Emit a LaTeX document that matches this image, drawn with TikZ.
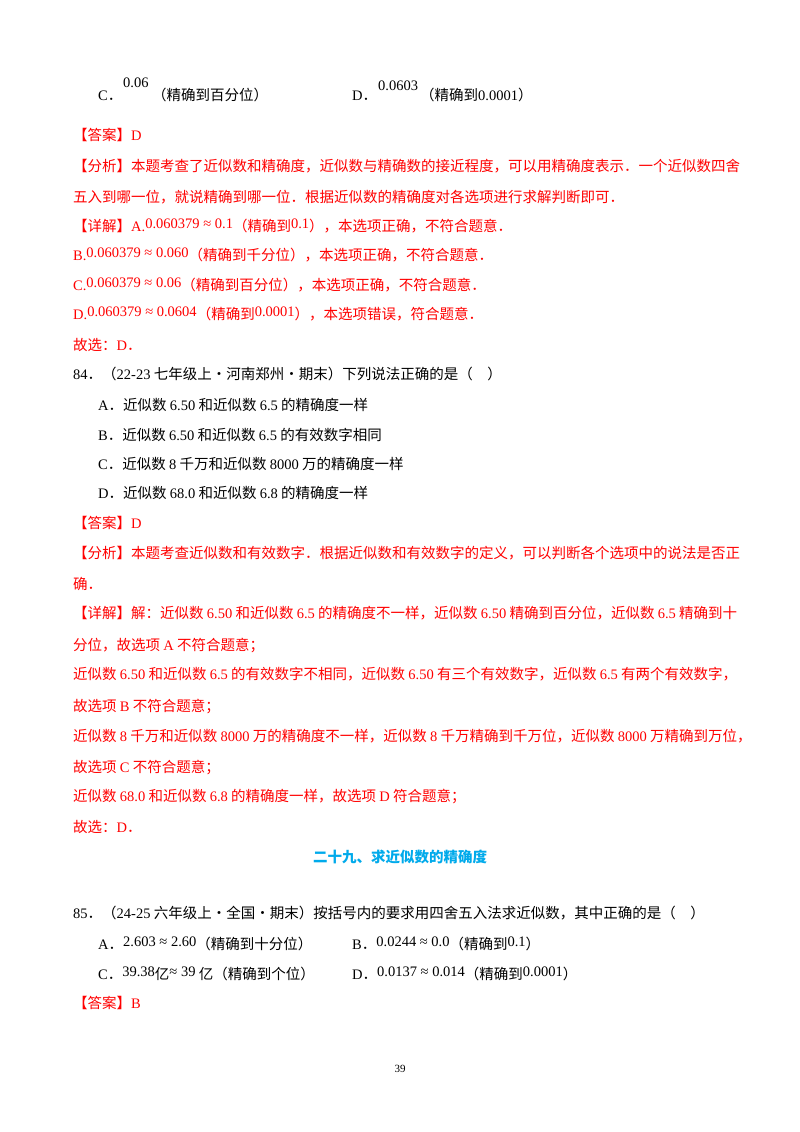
\documentclass[tikz,border=0pt]{standalone}
\usepackage{fontspec}
\setmainfont{Noto Sans CJK SC}
\newfontfamily\en{Liberation Serif}
\newcommand{\E}[1]{{\en #1}}
\newcommand{\R}[1]{\raisebox{3pt}{\en #1}}
\definecolor{myred}{RGB}{255,0,0}
\definecolor{head}{RGB}{0,170,235}
\tikzset{t/.style={anchor=base west,inner sep=0pt,font=\fontsize{14.5}{16}\selectfont},
 r/.style={t,text=myred}}
\begin{document}
\begin{tikzpicture}[x=1pt,y=-1pt]
\useasboundingbox[fill=white] (0,0) rectangle (800,1132);
% line 1
\node[t] (c1) at (98,100) {\E{C}．};
\node[t] (c2) at (123,88) {\E{0.06}};
\node[t] (c3) at (152,100) {（精确到百分位）};
\node[t] (d1) at (352,100) {\E{D}．};
\node[t] (d2) at (378,90) {\E{0.0603}};
\node[t] (d3) at (420,100) {（精确到\E{0.0001}）};
% answer block 1
\node[r] (a1) at (73,140) {【答案】\E{D}};
\node[r] (a2) at (73,171) {【分析】本题考查了近似数和精确度，近似数与精确数的接近程度，可以用精确度表示．一个近似数四舍};
\node[r] (a3) at (73,202) {五入到哪一位，就说精确到哪一位．根据近似数的精确度对各选项进行求解判断即可．};
\node[r] (a4) at (73,231) {【详解】\E{A.}\R{0.060379 ≈ 0.1}（精确到\R{0.1}），本选项正确，不符合题意．};
\node[r] (a5) at (73,260) {\E{B.}\R{0.060379 ≈ 0.060}（精确到千分位），本选项正确，不符合题意．};
\node[r] (a6) at (73,290) {\E{C.}\R{0.060379 ≈ 0.06}（精确到百分位），本选项正确，不符合题意．};
\node[r] (a7) at (73,319) {\E{D.}\R{0.060379 ≈ 0.0604}（精确到\R{0.0001}），本选项错误，符合题意．};
\node[r] (a8) at (73,350) {故选：\E{D}．};
% question 84
\node[t] (q1) at (73,379) {\E{84}．（\E{22-23} 七年级上·河南郑州·期末）下列说法正确的是（\hspace{1em}）};
\node[t] (q2) at (98,410) {\E{A}．近似数 \E{6.50} 和近似数 \E{6.5} 的精确度一样};
\node[t] (q3) at (98,440) {\E{B}．近似数 \E{6.50} 和近似数 \E{6.5} 的有效数字相同};
\node[t] (q4) at (98,469) {\E{C}．近似数 \E{8} 千万和近似数 \E{8000} 万的精确度一样};
\node[t] (q5) at (98,498) {\E{D}．近似数 \E{68.0} 和近似数 \E{6.8} 的精确度一样};
% answer block 2
\node[r] (b1) at (73,528) {【答案】\E{D}};
\node[r] (b2) at (73,558) {【分析】本题考查近似数和有效数字．根据近似数和有效数字的定义，可以判断各个选项中的说法是否正};
\node[r] (b3) at (73,589) {确．};
\node[r] (b4) at (73,618) {【详解】解：近似数 \E{6.50} 和近似数 \E{6.5} 的精确度不一样，近似数 \E{6.50} 精确到百分位，近似数 \E{6.5} 精确到十};
\node[r] (b5) at (73,650) {分位，故选项 \E{A} 不符合题意；};
\node[r] (b6) at (73,679) {近似数 \E{6.50} 和近似数 \E{6.5} 的有效数字不相同，近似数 \E{6.50} 有三个有效数字，近似数 \E{6.5} 有两个有效数字，};
\node[r] (b7) at (73,711) {故选项 \E{B} 不符合题意；};
\node[r] (b8) at (73,741) {近似数 \E{8} 千万和近似数 \E{8000} 万的精确度不一样，近似数 \E{8} 千万精确到千万位，近似数 \E{8000} 万精确到万位，};
\node[r] (b9) at (73,772) {故选项 \E{C} 不符合题意；};
\node[r] (b10) at (73,801) {近似数 \E{68.0} 和近似数 \E{6.8} 的精确度一样，故选项 \E{D} 符合题意；};
\node[r] (b11) at (73,832) {故选：\E{D}．};
% heading
\node[anchor=base,inner sep=0pt,font=\fontsize{14.5}{16}\selectfont\bfseries,text=head] (h) at (400,862) {二十九、求近似数的精确度};
% question 85
\node[t] (p1) at (73,918) {\E{85}．（\E{24-25} 六年级上·全国·期末）按括号内的要求用四舍五入法求近似数，其中正确的是（\hspace{1em}）};
\node[t] (p2) at (98,949) {\E{A}．\R{2.603 ≈ 2.60}（精确到十分位）};
\node[t] (p3) at (352,949) {\E{B}．\R{0.0244 ≈ 0.0}（精确到\R{0.1}）};
\node[t] (p4) at (98,979) {\E{C}．\R{39.38}亿\R{≈ 39} 亿（精确到个位）};
\node[t] (p5) at (352,979) {\E{D}．\R{0.0137 ≈ 0.014}（精确到\R{0.0001}）};
\node[r] (p6) at (73,1008) {【答案】\E{B}};
% page number
\node[anchor=base,inner sep=0pt,font=\fontsize{11}{13}\selectfont\en] (pg) at (400,1072) {39};
\end{tikzpicture}
\end{document}
